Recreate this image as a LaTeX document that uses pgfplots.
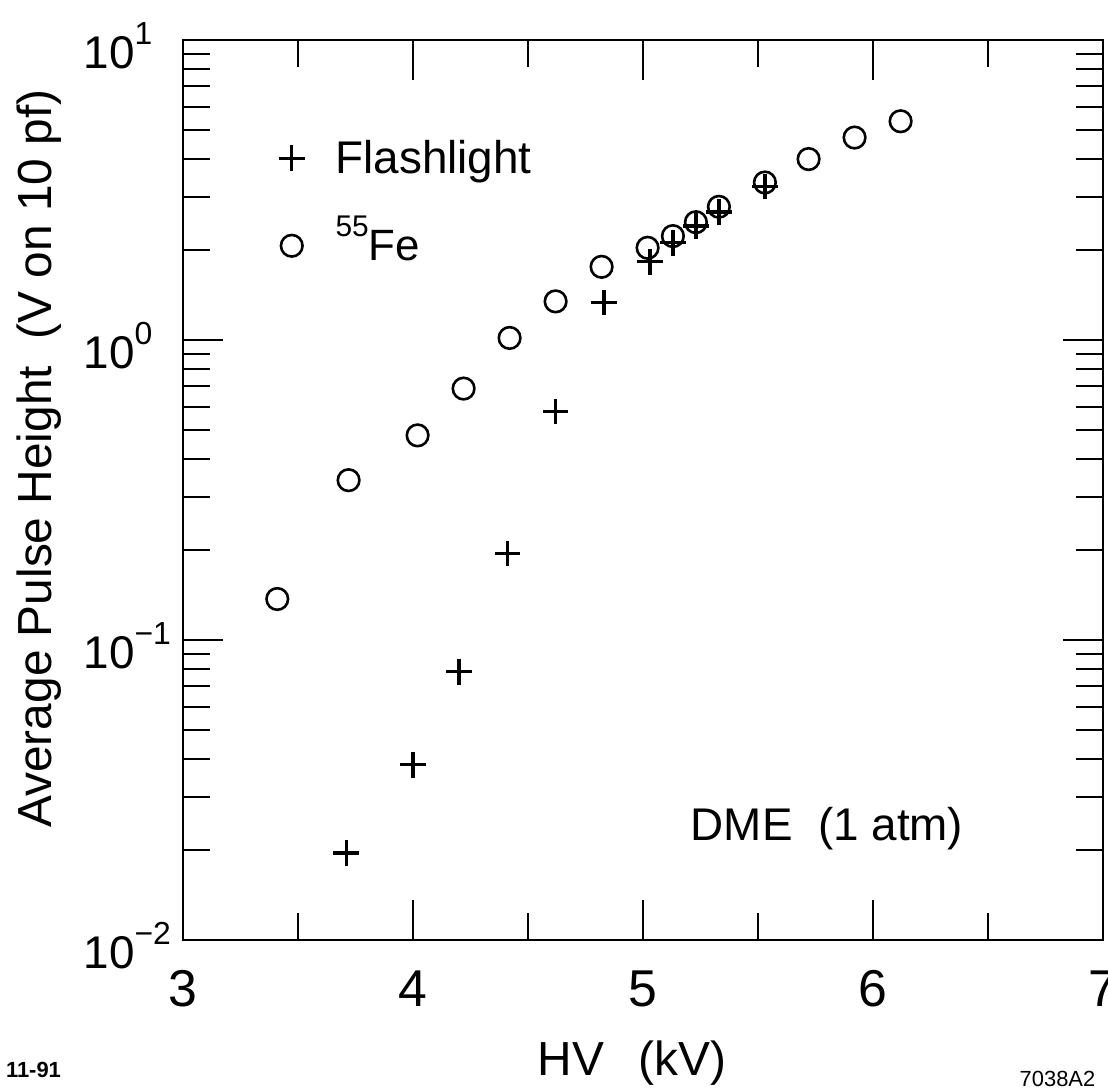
\documentclass[border=0pt]{standalone}
\usepackage{fontspec}
\setmainfont{Liberation Sans}
\usepackage{pgfplots}
\pgfplotsset{compat=1.18}
\newcommand\fs[1]{\fontsize{#1}{#1}\selectfont}
% exponent that takes no room, so every "10" stands at the same place
\newcommand\ex[1]{\smash{\makebox[0pt][l]{\raisebox{12bp}{\fs{16}#1}}}}

\begin{document}
\begin{tikzpicture}
\useasboundingbox (-91.5bp,-76bp) rectangle (462.5bp,470bp);
\begin{axis}[
  at={(0,0)}, anchor=south west,
  width=460bp, height=450bp, scale only axis,
  xmin=3, xmax=7, ymode=log, ymin=0.01, ymax=10,
  xtick={3,4,5,6,7}, xticklabels={3,4,5,6,7},
  minor xtick={3.5,4.5,5.5,6.5},
  ytick={0.01,0.1,1,10},
  yticklabels={10\ex{−2},10\ex{−1},10\ex{0},10\ex{1}},
  minor ytick={0.02,0.03,0.04,0.05,0.06,0.07,0.08,0.09,
               0.2,0.3,0.4,0.5,0.6,0.7,0.8,0.9,2,3,4,5,6,7,8,9},
  major tick length=20bp, minor tick length=13.5bp,
  axis line style={line width=1.4bp},
  tick style={line width=1bp, black},
  /pgf/number format/assume math mode=true,
  xticklabel style={font=\fs{26}, inner sep=0pt, yshift=-15bp},
  yticklabel style={font=\fs{23}, inner sep=0pt, xshift=-24bp, yshift=-6.5bp},
  xlabel={HV\hspace{17bp}(kV)},
  xlabel style={font=\fs{24}, at={(axis description cs:0.488,-0.1511)}, anchor=base, inner sep=0pt},
  ylabel={Average Pulse Height\ \ (V on 10 pf)},
  ylabel style={font=\fs{24}, at={(axis description cs:-0.1424,0.535)}, anchor=base, inner sep=0pt},
  legend image code/.code={\draw[#1] plot coordinates {(0bp,7.5bp)};},
  legend style={draw=none, fill=none, inner sep=0pt, outer sep=0pt,
    at={(axis description cs:0.1043,0.8889)}, anchor=north west,
    font=\fs{23}, row sep=20bp, column sep=15.5bp,
    nodes={inner sep=0pt, anchor=base west}},
  clip=false,
]
% flashlight
\addplot[only marks, mark=+, mark size=6.4bp, line width=1.6bp] coordinates {
 (3.71,0.0195) (4.00,0.0384) (4.20,0.0784) (4.41,0.194) (4.62,0.578)
 (4.83,1.334) (5.03,1.824) (5.13,2.11) (5.23,2.40) (5.33,2.67) (5.53,3.25)};
\addlegendentry{Flashlight}
% 55Fe
\addplot[only marks, mark=o, mark size=5.4bp, line width=1.3bp] coordinates {
 (3.41,0.137) (3.72,0.341) (4.02,0.481) (4.22,0.689) (4.42,1.016)
 (4.62,1.345) (4.82,1.754) (5.02,2.03) (5.13,2.22) (5.23,2.47)
 (5.33,2.78) (5.53,3.35) (5.72,4.01) (5.92,4.73) (6.12,5.36)};
\addlegendentry{\raisebox{12bp}{\fs{15}55}\fs{22}Fe}
\node[font=\fs{23}, anchor=base, inner sep=0pt] at (axis cs:5.80,0.0215) {DME\ \ (1 atm)};
\end{axis}
\node[font=\bfseries\fs{11}, anchor=base, inner sep=0pt] at (-74.75bp,-68.5bp) {11-91};
\node[font=\fs{11}, anchor=base, inner sep=0pt] at (437.25bp,-73bp) {7038A2};
\end{tikzpicture}
\end{document}
